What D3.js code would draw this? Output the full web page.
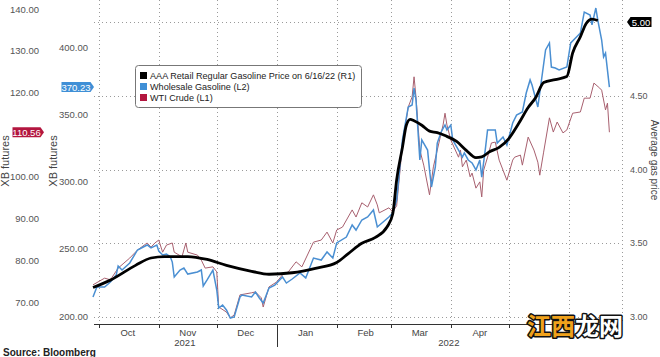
<!DOCTYPE html>
<html><head><meta charset="utf-8">
<script src="https://cdn.jsdelivr.net/npm/d3@7"></script>
<style>
html,body{margin:0;padding:0;background:#fff;}
svg{display:block;font-family:"Liberation Sans",Arial,sans-serif;}
</style></head>
<body><svg id="chart" width="660" height="357"></svg>
<script>
// ---------- DATA ----------
const retailPrice = [["2021-09-28",3.20],["2021-10-07",3.25],["2021-10-20",3.35],["2021-10-28",3.40],["2021-11-04",3.41],["2021-11-16",3.41],["2021-11-26",3.39],["2021-12-06",3.35],["2021-12-19",3.31],["2021-12-28",3.29],["2022-01-09",3.30],["2022-01-21",3.33],["2022-02-01",3.37],["2022-02-07",3.43],["2022-02-14",3.50],["2022-02-21",3.54],["2022-02-27",3.61],["2022-03-02",3.70],["2022-03-04",3.93],["2022-03-07",4.15],["2022-03-09",4.30],["2022-03-11",4.34],["2022-03-13",4.33],["2022-03-17",4.30],["2022-03-21",4.26],["2022-03-25",4.25],["2022-03-29",4.23],["2022-04-04",4.19],["2022-04-09",4.13],["2022-04-14",4.08],["2022-04-17",4.085],["2022-04-21",4.12],["2022-04-26",4.15],["2022-05-01",4.21],["2022-05-06",4.31],["2022-05-11",4.42],["2022-05-15",4.49],["2022-05-19",4.59],["2022-05-25",4.61],["2022-05-31",4.63],["2022-06-03",4.79],["2022-06-07",4.90],["2022-06-10",4.99],["2022-06-13",5.02],["2022-06-16",5.01]];

const wholesaleGasoline = [["2021-09-28",214.1],["2021-09-30",221.6],["2021-10-04",221.6],["2021-10-07",225.3],["2021-10-10",230.5],["2021-10-11",237.2],["2021-10-13",234.2],["2021-10-17",239.4],["2021-10-21",249.1],["2021-10-26",252.8],["2021-10-28",250.6],["2021-10-31",252.8],["2021-11-01",248.3],["2021-11-03",245.4],["2021-11-05",246.1],["2021-11-07",243.9],["2021-11-08",240.1],["2021-11-09",229.0],["2021-11-12",234.2],["2021-11-14",235.7],["2021-11-16",231.2],["2021-11-21",232.7],["2021-11-23",234.2],["2021-11-24",222.3],["2021-11-26",226.8],["2021-11-29",234.2],["2021-12-01",219.3],["2021-12-02",205.9],["2021-12-04",208.2],["2021-12-06",204.5],["2021-12-08",198.5],["2021-12-10",199.3],["2021-12-13",214.1],["2021-12-14",215.6],["2021-12-19",214.1],["2021-12-21",217.8],["2021-12-23",213.4],["2021-12-25",209.7],["2021-12-28",220.8],["2021-12-31",223.0],["2022-01-04",229.0],["2022-01-06",224.5],["2022-01-09",227.5],["2022-01-13",232.0],["2022-01-16",228.3],["2022-01-20",243.1],["2022-01-24",241.6],["2022-01-27",247.6],["2022-01-30",243.1],["2022-02-01",254.3],["2022-02-06",258.7],["2022-02-09",267.7],["2022-02-11",263.9],["2022-02-14",271.4],["2022-02-17",273.6],["2022-02-20",278.8],["2022-02-22",266.2],["2022-02-25",269.9],["2022-02-28",273.6],["2022-03-02",276.6],["2022-03-04",286.2],["2022-03-07",330.9],["2022-03-10",355.4],["2022-03-12",356.9],["2022-03-13",369.5],["2022-03-14",360.6],["2022-03-16",316.0],["2022-03-17",330.9],["2022-03-20",323.4],["2022-03-21",308.6],["2022-03-22",295.9],["2022-03-24",310.8],["2022-03-25",328.6],["2022-03-27",336.8],["2022-03-29",342.0],["2022-03-30",338.3],["2022-04-01",342.0],["2022-04-02",330.9],["2022-04-05",323.4],["2022-04-07",318.2],["2022-04-08",321.2],["2022-04-10",316.0],["2022-04-12",313.8],["2022-04-14",308.6],["2022-04-16",316.0],["2022-04-17",303.3],["2022-04-19",325.7],["2022-04-20",338.3],["2022-04-24",338.3],["2022-04-25",328.6],["2022-04-28",333.1],["2022-04-30",327.1],["2022-05-03",343.5],["2022-05-05",349.4],["2022-05-08",351.7],["2022-05-10",365.8],["2022-05-12",375.5],["2022-05-13",371.7],["2022-05-16",355.4],["2022-05-20",397.8],["2022-05-22",403.0],["2022-05-23",385.1],["2022-05-25",384.4],["2022-05-27",382.9],["2022-05-31",385.1],["2022-06-02",403.0],["2022-06-05",407.4],["2022-06-07",410.4],["2022-06-09",426.0],["2022-06-12",423.8],["2022-06-13",416.4],["2022-06-15",429.0],["2022-06-16",420.0],["2022-06-18",405.2],["2022-06-19",392.6],["2022-06-20",395.5],["2022-06-22",370.23]];

const wtiCrude = [["2021-09-28",74.1],["2021-10-04",75.7],["2021-10-07",75.3],["2021-10-11",78.1],["2021-10-14",79.3],["2021-10-17",80.5],["2021-10-21",82.4],["2021-10-26",84.1],["2021-10-28",83.1],["2021-10-30",84.1],["2021-11-01",84.8],["2021-11-03",81.9],["2021-11-05",83.6],["2021-11-08",84.1],["2021-11-09",81.9],["2021-11-13",80.8],["2021-11-15",84.1],["2021-11-16",81.9],["2021-11-21",81.2],["2021-11-23",80.0],["2021-11-25",78.1],["2021-11-29",78.4],["2021-12-01",77.2],["2021-12-02",68.8],["2021-12-06",67.6],["2021-12-08",66.2],["2021-12-10",66.9],["2021-12-13",71.7],["2021-12-19",72.2],["2021-12-21",72.4],["2021-12-24",71.0],["2021-12-25",68.8],["2021-12-28",73.6],["2022-01-01",74.8],["2022-01-04",76.5],["2022-01-07",77.2],["2022-01-11",79.6],["2022-01-14",78.4],["2022-01-20",84.3],["2022-01-24",84.8],["2022-01-27",86.7],["2022-01-30",84.1],["2022-02-01",87.2],["2022-02-04",87.9],["2022-02-09",92.0],["2022-02-11",90.3],["2022-02-14",93.7],["2022-02-17",92.7],["2022-02-20",95.6],["2022-02-22",93.2],["2022-02-23",91.3],["2022-02-28",92.5],["2022-03-02",91.5],["2022-03-04",93.0],["2022-03-07",107.5],["2022-03-10",116.6],["2022-03-12",119.0],["2022-03-13",123.8],["2022-03-14",119.0],["2022-03-16",106.3],["2022-03-18",102.7],["2022-03-21",95.6],["2022-03-23",102.3],["2022-03-28",112.3],["2022-03-29",115.1],["2022-03-30",112.3],["2022-04-01",108.7],["2022-04-05",104.6],["2022-04-06",106.3],["2022-04-07",102.3],["2022-04-09",103.9],["2022-04-11",99.9],["2022-04-12",100.8],["2022-04-14",97.2],["2022-04-16",98.7],["2022-04-17",95.1],["2022-04-18",101.5],["2022-04-20",104.6],["2022-04-22",108.0],["2022-04-24",108.2],["2022-04-26",103.9],["2022-04-28",101.5],["2022-04-30",99.1],["2022-05-03",103.9],["2022-05-04",104.6],["2022-05-07",105.1],["2022-05-08",102.7],["2022-05-11",109.4],["2022-05-14",106.3],["2022-05-16",103.4],["2022-05-17",100.3],["2022-05-19",105.8],["2022-05-22",114.0],["2022-05-24",110.6],["2022-05-26",113.0],["2022-05-29",110.4],["2022-05-31",111.1],["2022-06-03",115.1],["2022-06-07",115.4],["2022-06-09",118.7],["2022-06-12",118.7],["2022-06-14",122.3],["2022-06-17",121.1],["2022-06-18",120.6],["2022-06-20",115.9],["2022-06-21",117.5],["2022-06-22",110.56]];

// 110.00 sits under the WTI value tag in the reference, so it is not listed
const leftTicksL1 = [70,80,90,100,120,130,140];
const leftTicksL2 = [200,250,300,350,400];
const rightTicks = [3.0,3.5,4.0,4.5,5.0];
// May / Jun labels are hidden by the watermark in the reference
const monthLabels = ["Oct","Nov","Dec","Jan","Feb","Mar","Apr"];
const yearLabels = [["2021","2021-09-28","2022-01-01"],["2022","2022-01-01","2022-06-28"]];
const legendItems = [["AAA Retail Regular Gasoline Price on 6/16/22 (R1)","#000000"],["Wholesale Gasoline (L2)","#3f8fd6"],["WTI Crude (L1)","#b3163f"]];
const lastValues = {blue:"370.23", red:"110.56", black:"5.00"};

// ---------- SCALES ----------
const parse = d3.utcParse("%Y-%m-%d");
const x = d3.scaleUtc().domain([parse("2021-09-28"), parse("2022-06-28")]).range([93, 621]);
const yR = d3.scaleLinear().domain([3,5]).range([317,22]);
const yL2 = d3.scaleLinear().domain([200,400]).range([316,47]);
const yL1 = d3.scaleLinear().domain([70,140]).range([302,9]);

const svg = d3.select("#chart");
const plotL = 94, plotR = 622, plotT = 0, axisY = 324;

// ---------- GRID ----------
const grid = svg.append("g").attr("stroke","#9a9a9a").attr("stroke-width",1).attr("stroke-dasharray","1,3");
grid.selectAll("line.h").data(rightTicks).join("line")
  .attr("x1",plotL).attr("x2",plotR).attr("y1",d=>Math.round(yR(d))+0.5).attr("y2",d=>Math.round(yR(d))+0.5);
const monthStarts = d3.utcMonth.range(parse("2021-10-01"), parse("2022-06-02"));
grid.selectAll("line.v").data(monthStarts).join("line")
  .attr("x1",d=>Math.round(x(d))+0.5).attr("x2",d=>Math.round(x(d))+0.5).attr("y1",plotT).attr("y2",axisY);
grid.append("line").attr("x1",plotR+0.5).attr("x2",plotR+0.5).attr("y1",plotT).attr("y2",axisY);

// ---------- X AXIS ----------
svg.append("line").attr("x1",plotL).attr("x2",plotR).attr("y1",axisY+0.5).attr("y2",axisY+0.5).attr("stroke","#333");
svg.selectAll("line.tick").data(monthStarts).join("line")
  .attr("x1",d=>Math.round(x(d))+0.5).attr("x2",d=>Math.round(x(d))+0.5)
  .attr("y1",axisY).attr("y2",d=> d.getUTCMonth()===0 ? 347 : 328).attr("stroke","#333");
svg.selectAll("text.month").data(monthStarts.slice(0, monthLabels.length)).join("text")
  .attr("x",d=>x(d3.utcDay.offset(d,15))).attr("y",335.5).attr("text-anchor","middle")
  .attr("font-size",9.5).attr("fill","#444").text((d,i)=>monthLabels[i]);
svg.selectAll("text.year").data(yearLabels).join("text")
  .attr("x",d=>(x(parse(d[1]))+x(parse(d[2])))/2).attr("y",346).attr("text-anchor","middle")
  .attr("font-size",9.5).attr("fill","#444").text(d=>d[0]);

// ---------- Y AXES ----------
svg.selectAll("text.l1").data(leftTicksL1).join("text")
  .attr("x",39).attr("y",d=>yL1(d)+3.5).attr("text-anchor","end").attr("font-size",9.5).attr("fill","#555")
  .text(d=>d3.format(".2f")(d));
svg.selectAll("text.l2").data(leftTicksL2).join("text")
  .attr("x",88).attr("y",d=>yL2(d)+3.5).attr("text-anchor","end").attr("font-size",9.5).attr("fill","#555")
  .text(d=>d3.format(".2f")(d));
svg.selectAll("text.r").data(rightTicks.filter(d=>d<5)).join("text")
  .attr("x",630).attr("y",d=>yR(d)+3.2).attr("text-anchor","start").attr("font-size",9).attr("fill","#555")
  .text(d=>d3.format(".2f")(d));

svg.append("text").attr("transform","translate(9,161) rotate(-90)").attr("text-anchor","middle")
  .attr("font-size",11).attr("fill","#444").text("XB futures");
svg.append("text").attr("transform","translate(57,161) rotate(-90)").attr("text-anchor","middle")
  .attr("font-size",11).attr("fill","#444").text("XB futures");
svg.append("text").attr("transform","translate(650.5,160) rotate(90)").attr("text-anchor","middle")
  .attr("font-size",10).attr("fill","#444").text("Average gas price");

// ---------- LINES ----------
const mk = (ys,curve)=>d3.line().x(d=>x(parse(d[0]))).y(d=>ys(d[1])).curve(curve||d3.curveLinear);
svg.append("path").datum(wtiCrude).attr("d",mk(yL1)).attr("fill","none").attr("stroke","#a8606f").attr("stroke-width",1);
svg.append("path").datum(wholesaleGasoline).attr("d",mk(yL2)).attr("fill","none").attr("stroke","#4a8fd2").attr("stroke-width",1.5);
svg.append("path").datum(retailPrice).attr("d",mk(yR,d3.curveMonotoneX)).attr("fill","none").attr("stroke","#000").attr("stroke-width",2.8).attr("stroke-linejoin","round");

// ---------- VALUE TAGS ----------
function tag(xr, yc, w, color, txt, pointLeft){
  const h=10, p=3.5;
  let pts;
  if(pointLeft){ pts=[[xr,yc],[xr+p,yc-h/2],[xr+p+w,yc-h/2],[xr+p+w,yc+h/2],[xr+p,yc+h/2]]; }
  else { pts=[[xr,yc],[xr-p,yc-h/2],[xr-p-w,yc-h/2],[xr-p-w,yc+h/2],[xr-p,yc+h/2]]; }
  svg.append("polygon").attr("points",pts.map(q=>q.join(",")).join(" ")).attr("fill",color);
  const cx = pointLeft ? xr+p+w/2 : xr-p-w/2;
  svg.append("text").attr("x",cx).attr("y",yc+3.5).attr("text-anchor","middle").attr("font-size",9.5).attr("fill","#fff").text(txt);
}
tag(94, yL2(+lastValues.blue), 29, "#3f8fd6", lastValues.blue, false);
tag(44, yL1(+lastValues.red), 28, "#b3163f", lastValues.red, false);
tag(627, yR(+lastValues.black), 21, "#000", lastValues.black, true);

// ---------- LEGEND ----------
const lg = svg.append("g");
lg.append("rect").attr("x",135.5).attr("y",65.5).attr("width",226).attr("height",42).attr("rx",3)
  .attr("fill","#fff").attr("stroke","#777");
lg.selectAll("rect.sw").data(legendItems).join("rect")
  .attr("x",140).attr("y",(d,i)=>72+i*11).attr("width",7).attr("height",7).attr("fill",d=>d[1]);
lg.selectAll("text").data(legendItems).join("text")
  .attr("x",150).attr("y",(d,i)=>79+i*11).attr("font-size",9.1).attr("fill","#222").text(d=>d[0]);

// ---------- SOURCE & WATERMARK ----------
svg.append("text").attr("x",3).attr("y",356).attr("font-size",10).attr("font-weight","bold").attr("fill","#222").text("Source:  Bloomberg");
const wm = svg.append("text").attr("x",527).attr("y",335).attr("font-size",24).attr("font-weight","bold")
  .attr("font-family","'Noto Sans CJK SC',sans-serif").attr("stroke","#111").attr("stroke-width",3).attr("paint-order","stroke")
  .attr("stroke-linejoin","round");
wm.append("tspan").attr("fill","#f0a21c").text("江西");
wm.append("tspan").attr("fill","#ffffff").text("龙网");
</script></body></html>
